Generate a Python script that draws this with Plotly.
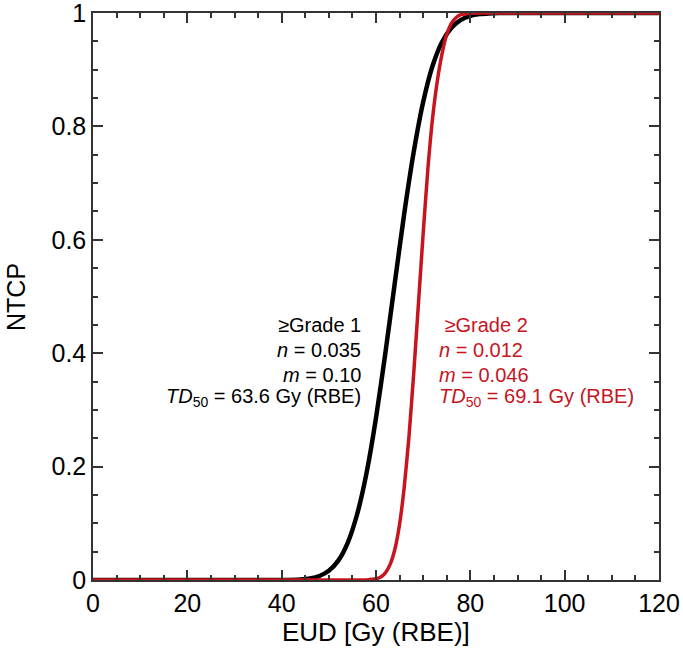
import plotly.graph_objects as go

# EUD (Gy RBE) sample points and NTCP values
eud_g1 = [0, 40, 44, 46, 48, 50, 52, 54, 56, 58, 60, 62, 64, 66, 68, 70, 72, 74, 76, 78, 80, 82, 84, 86, 90, 120]
ntcp_g1 = [0, 0, 0.001, 0.0028, 0.0071, 0.0163, 0.0341, 0.0656, 0.116, 0.189, 0.286, 0.401, 0.525, 0.647,
           0.755, 0.843, 0.907, 0.949, 0.974, 0.988, 0.995, 0.998, 0.9993, 1.0, 1.0, 1.0]

eud_g2 = [0, 56, 58, 60, 61, 62, 63, 64, 65, 66, 67, 68, 69, 70, 71, 72, 73, 74, 75, 76, 77, 78, 80, 82, 90, 120]
ntcp_g2 = [0, 0, 0.0002, 0.0021, 0.0054, 0.0127, 0.0275, 0.0542, 0.0985, 0.165, 0.254, 0.365, 0.488, 0.611,
           0.725, 0.815, 0.880, 0.928, 0.962, 0.982, 0.992, 0.997, 0.9997, 1.0, 1.0, 1.0]

x_ticks = [0, 20, 40, 60, 80, 100, 120]
y_ticks = [0, 0.2, 0.4, 0.6, 0.8, 1]
y_tick_text = ["0", "0.2", "0.4", "0.6", "0.8", "1"]

x_title = "EUD [Gy (RBE)]"
y_title = "NTCP"
label_g1 = ["≥Grade 1", "<i>n</i> = 0.035", "<i>m</i> = 0.10", "<i>TD</i><sub>50</sub> = 63.6 Gy (RBE)"]
label_g2 = [" ≥Grade 2", "<i>n</i> = 0.012", "<i>m</i> = 0.046", "<i>TD</i><sub>50</sub> = 69.1 Gy (RBE)"]
label_y = [0.450, 0.406, 0.362, 0.322]

RED = "#c8141e"
FONT = "Liberation Sans, Arial, sans-serif"

fig = go.Figure()
fig.add_trace(go.Scatter(x=eud_g1, y=ntcp_g1, mode="lines", line=dict(color="black", width=4.5, shape="spline", smoothing=0.6),
                         showlegend=False, hoverinfo="skip"))
fig.add_trace(go.Scatter(x=eud_g2, y=ntcp_g2, mode="lines", line=dict(color=RED, width=3.5, shape="spline", smoothing=0.6),
                         showlegend=False, hoverinfo="skip"))

axis_common = dict(showline=True, linecolor="#333333", linewidth=1.5, mirror="ticks", ticks="inside",
                   ticklen=10, tickwidth=1.5, tickcolor="#333333", showgrid=False, zeroline=False, automargin=False,
                   ticklabeloverflow="allow", tickfont=dict(size=25, color="black", family=FONT))

fig.update_xaxes(range=[0, 120], tickvals=x_ticks,
                 minor=dict(dtick=5, ticklen=5, tickwidth=1.5, tickcolor="#333333", ticks="inside"), **axis_common)
fig.update_yaxes(range=[0, 1], tickvals=y_ticks, ticktext=y_tick_text,
                 minor=dict(dtick=0.05, ticklen=5, tickwidth=1.5, tickcolor="#333333", ticks="inside"), **axis_common)

# axis titles placed as annotations for precise positioning
fig.add_annotation(x=0.5, y=-0.092, xref="paper", yref="paper", text=x_title, showarrow=False,
                   xanchor="center", yanchor="middle", font=dict(size=26, family=FONT, color="black"))
fig.add_annotation(x=-0.137, y=0.5, xref="paper", yref="paper", text=y_title, showarrow=False, textangle=-90,
                   xanchor="center", yanchor="middle", font=dict(size=25, family=FONT, color="black"))

for txt, yy in zip(label_g1, label_y):
    fig.add_annotation(x=57.2, y=yy, xref="x", yref="y", text=txt, showarrow=False,
                       xanchor="right", yanchor="middle", align="right", font=dict(size=20, family=FONT, color="black"))
for txt, yy in zip(label_g2, label_y):
    fig.add_annotation(x=72.9, y=yy, xref="x", yref="y", text=txt, showarrow=False,
                       xanchor="left", yanchor="middle", align="left", font=dict(size=20, family=FONT, color=RED))

fig.update_layout(width=683, height=655, margin=dict(l=93, r=24, t=13, b=75, autoexpand=False),
                  plot_bgcolor="white", paper_bgcolor="white", font=dict(family=FONT))

fig.write_html("out.html", config={"displayModeBar": False},
               post_script="document.body.style.margin='0';document.body.style.overflow='hidden';")
